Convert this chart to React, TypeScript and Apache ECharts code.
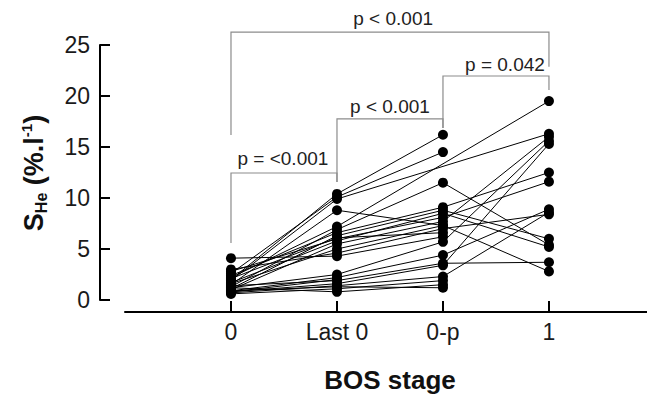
import React, { useEffect, useRef } from "react";
import * as echarts from "echarts";

// BOS stage categories (x positions 0..3)
const categories = ["0", "Last 0", "0-p", "1"];

// S_He values per subject at each stage (null = not measured)
const stage0 = [2.0, 2.6, 1.9, 1.5, 2.2, 1.3, 2.4, 1.1, 2.8, 1.7, 1.0, 3.0, 4.1, 1.2, 0.9, 1.4, 0.8, 0.7, 0.6, 1.2, 0.9, 2.1, 1.6, 0.8];
const last0 = [10.4, 10.1, 9.9, 8.8, 7.2, 6.9, 6.6, 6.3, 6.0, 5.8, 5.5, 4.6, 4.3, 2.5, 2.2, 1.9, 1.6, 1.4, 1.1, 0.8, 1.3, 6.1, 5.0, 2.0];
const stage0p = [16.2, 14.5, null, 7.3, null, 11.5, 9.1, 8.8, 8.1, 8.5, 7.7, 7.0, 6.2, 5.7, 4.4, 3.6, 3.4, 2.3, 1.9, 1.5, 1.2, 6.6, 7.3, null];
const stage1 = [null, null, 16.3, 2.8, 19.5, 5.4, 12.5, 6.0, 11.6, 5.2, 16.0, 8.4, null, 15.6, 8.9, 3.7, 15.3, 8.6, null, null, null, null, null, null];

// y axis ticks
const yMin = 0;
const yMax = 25;
const yStep = 5;

// significance brackets (in data space)
const bracketLabels = ["p < 0.001", "p = 0.042", "p < 0.001", "p = <0.001"];
const bracketFrom = [0, 2, 1, 0];
const bracketTo = [3, 3, 2, 1];
const bracketTop = [26.27, 21.96, 17.75, 12.45];
const bracketLeftEnd = [16.18, 16.86, 11.57, 5.59];
const bracketRightEnd = [22.87, 20.6, 16.86, 11.57];
const bracketLabelX = [1.53, 2.585, 1.5, 0.49];
const bracketLabelY = [27.55, 23.1, 18.95, 13.85];

const FONT = "'Liberation Sans', Arial, Helvetica, sans-serif";

export default function App() {
  const ref = useRef<HTMLDivElement>(null);

  useEffect(() => {
    if (!ref.current) return;
    const chart = echarts.init(ref.current, null, { renderer: "svg" });

    const series = stage0.map((_, i) => {
      const vals = [stage0[i], last0[i], stage0p[i], stage1[i]];
      const data = vals
        .map((v, k) => (v == null ? null : [k, v]))
        .filter((d) => d !== null);
      return {
        type: "line",
        data,
        symbol: "circle",
        symbolSize: 10,
        showSymbol: true,
        silent: true,
        lineStyle: { color: "#000", width: 1 },
        itemStyle: { color: "#000" },
      };
    });

    chart.setOption({
      animation: false,
      grid: { left: 125, right: 0, top: 45, bottom: 94 },
      xAxis: {
        type: "value",
        min: -1,
        max: 3.925,
        interval: 1,
        offset: 12,
        splitLine: { show: false },
        axisLine: { show: true, onZero: false, lineStyle: { color: "#000", width: 2 } },
        axisTick: {
          show: true,
          inside: true,
          length: 11,
          lineStyle: { color: "#000", width: 2 },
          customValues: [0, 1, 2, 3],
        },
        axisLabel: {
          customValues: [0, 1, 2, 3],
          formatter: (v: number) => categories[Math.round(v)] ?? "",
          fontSize: 23,
          color: "#1a1a1a",
          fontFamily: FONT,
          margin: 8,
        },
      },
      yAxis: {
        type: "value",
        min: yMin,
        max: yMax,
        interval: yStep,
        offset: 25,
        splitLine: { show: false },
        axisLine: { show: true, onZero: false, lineStyle: { color: "#000", width: 2 } },
        axisTick: {
          show: true,
          inside: true,
          length: 10,
          lineStyle: { color: "#000", width: 2 },
        },
        axisLabel: {
          fontSize: 23,
          color: "#1a1a1a",
          fontFamily: FONT,
          margin: 10,
        },
      },
      series,
    });

    const px = (x: number, y: number) =>
      chart.convertToPixel({ gridIndex: 0 }, [x, y]) as number[];

    const elements: any[] = [];
    bracketLabels.forEach((label, i) => {
      const p1 = px(bracketFrom[i], bracketLeftEnd[i]);
      const p2 = px(bracketFrom[i], bracketTop[i]);
      const p3 = px(bracketTo[i], bracketTop[i]);
      const p4 = px(bracketTo[i], bracketRightEnd[i]);
      elements.push({
        type: "polyline",
        shape: { points: [p1, p2, p3, p4] },
        style: { stroke: "#8c8c8c", lineWidth: 1.2, fill: null },
        silent: true,
      });
      const t = px(bracketLabelX[i], bracketLabelY[i]);
      elements.push({
        type: "text",
        x: t[0],
        y: t[1],
        style: {
          text: label,
          fontSize: 19,
          fontFamily: FONT,
          fill: "#222",
          align: "center",
          verticalAlign: "middle",
          textAlign: "center",
          textVerticalAlign: "middle",
        },
        silent: true,
      });
    });

    // x axis name
    elements.push({
      type: "text",
      x: 390,
      y: 380,
      style: {
        text: "BOS stage",
        fontSize: 26,
        fontWeight: "bold",
        fontFamily: FONT,
        fill: "#111",
        align: "center",
        verticalAlign: "middle",
        textAlign: "center",
        textVerticalAlign: "middle",
      },
      silent: true,
    });

    // y axis name with subscript / superscript
    elements.push({
      type: "text",
      x: 34,
      y: 173,
      rotation: Math.PI / 2,
      style: {
        text: "{m|S}{s|He}{m| (%.l}{p|-1}{m|)}",
        fontFamily: FONT,
        fill: "#111",
        align: "center",
        verticalAlign: "middle",
        textAlign: "center",
        textVerticalAlign: "middle",
        rich: {
          m: { fontSize: 27, fontWeight: "bold", fontFamily: FONT, fill: "#111", lineHeight: 31, verticalAlign: "middle" },
          s: { fontSize: 16, fontWeight: "bold", fontFamily: FONT, fill: "#111", lineHeight: 16, verticalAlign: "bottom" },
          p: { fontSize: 15, fontWeight: "bold", fontFamily: FONT, fill: "#111", lineHeight: 16, verticalAlign: "top" },
        },
      },
      silent: true,
    });

    chart.setOption({ graphic: { elements } });

    return () => chart.dispose();
  }, []);

  return (
    <div
      ref={ref}
      style={{ position: "fixed", left: 0, top: 0, width: 647, height: 394, background: "#fff" }}
    />
  );
}
